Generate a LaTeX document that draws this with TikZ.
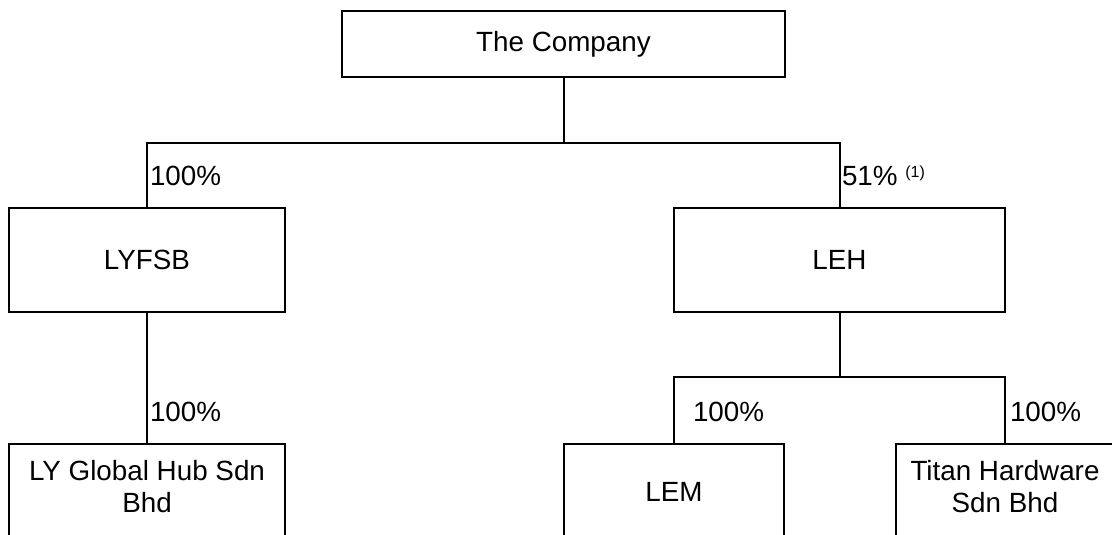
\documentclass[tikz,border=0pt]{standalone}
\usepackage{fontspec}
\setmainfont{Liberation Sans}
\begin{document}
\begin{tikzpicture}[x=1pt,y=-1pt, line width=2pt,
  every node/.style={font=\fontsize{27.8}{32}\selectfont},
  box/.style={draw, rectangle, inner sep=0pt, align=center},
  lowbox/.style={box, anchor=north, minimum height=130pt},
  pct/.style={inner sep=0pt, anchor=base west}]
\useasboundingbox (0,0) rectangle (1112,535);
\clip (0,0) rectangle (1112,535);
% boxes
\node[box, minimum width=443pt, minimum height=66pt] (company) at (563.5,44) {The Company};
\node[box, minimum width=276pt, minimum height=104pt] (lyfsb) at (147,260) {LYFSB};
\node[box, minimum width=331pt, minimum height=104pt] (leh) at (839.5,260) {LEH};
\node[lowbox, minimum width=276pt, label={[align=center, anchor=center, yshift=-44pt]north:{LY Global Hub Sdn\\Bhd}}] (lyg) at (147,443) {};
\node[lowbox, minimum width=220pt, label={[anchor=center, yshift=-49pt]north:{LEM}}] (lem) at (674,443) {};
\node[lowbox, minimum width=218pt, label={[align=center, anchor=center, yshift=-44pt]north:{Titan Hardware\\Sdn Bhd}}] (titan) at (1005,443) {};
% connectors
\coordinate (j1) at (563.5,143);
\draw (company.south) -- (j1);
\draw (lyfsb.north) |- (j1) -| (leh.north);
\draw (lyfsb.south) -- (lyg.north);
\coordinate (j2) at (839.5,377);
\draw (leh.south) -- (j2);
\draw (lem.north) |- (j2) -| (titan.north);
% percentages
\node[pct] (p1) at (149,185) {100\%};
\node[pct] (p2) at (841,185) {51\% \raisebox{7.5pt}{\fontsize{16}{19}\selectfont(1)}};
\node[pct] (p3) at (149,421) {100\%};
\node[pct] (p4) at (692,421) {100\%};
\node[pct] (p5) at (1009,421) {100\%};
\end{tikzpicture}
\end{document}
